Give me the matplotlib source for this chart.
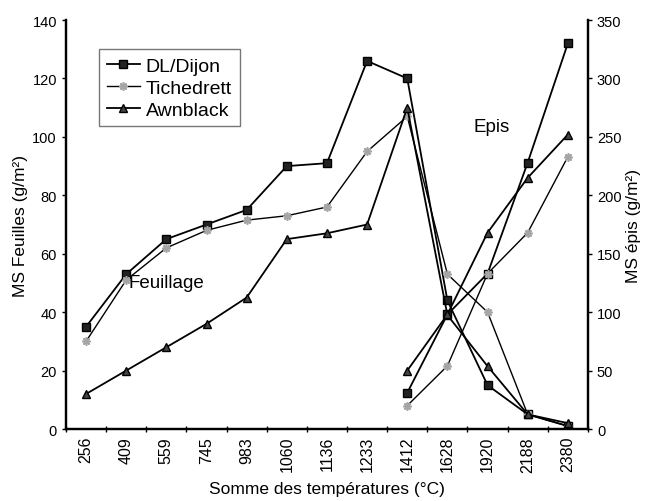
import numpy as np
import matplotlib
matplotlib.use("Agg")
import matplotlib.pyplot as plt

plt.rcParams['font.family'] = ['Liberation Sans', 'DejaVu Sans']

# ---------------------------
# données
# ---------------------------
temps = ['256', '409', '559', '745', '983', '1060', '1136', '1233',
         '1412', '1628', '1920', '2188', '2380']

# MS feuilles (g/m2), axe de gauche
feuil_dl = [35, 53, 65, 70, 75, 90, 91, 126, 120, 44, 15, 5, 1]
feuil_tich = [30, 51, 62, 68, 71.5, 73, 76, 95, 107, 53, 40, 5, 1]
feuil_awn = [12, 20, 28, 36, 45, 65, 67, 70, 110, 39, 21.5, 5, 2]

# MS épis (g/m2), axe de droite, à partir de 1412
epis_temps = ['1412', '1628', '1920', '2188', '2380']
epis_dl = [31, 98, 133, 228, 330]
epis_tich = [20, 54, 133, 168, 233]
epis_awn = [50, 98, 168, 215, 252]

x = np.arange(len(temps))
xe = np.array([temps.index(t) for t in epis_temps])

styles = {
    'dl': dict(color='black', lw=1.3, marker='s', ms=5.5, mfc='#222222', mec='black'),
    'tich': dict(color='black', lw=1.0, marker=(8, 2, 0), ms=6, mfc='#aaaaaa', mec='#a5a5a5', mew=1.2),
    'awn': dict(color='black', lw=1.3, marker='^', ms=6, mfc='#444444', mec='black'),
}

fig = plt.figure(figsize=(6.5, 5.02), dpi=100)
ax = fig.add_axes([0.1015, 0.1434, 0.803, 0.8147])
ax2 = ax.twinx()

ax.plot(x, feuil_dl, label='DL/Dijon', **styles['dl'])
ax.plot(x, feuil_tich, label='Tichedrett', **styles['tich'])
ax.plot(x, feuil_awn, label='Awnblack', **styles['awn'])

ax2.plot(xe, epis_dl, **styles['dl'])
ax2.plot(xe, epis_tich, **styles['tich'])
ax2.plot(xe, epis_awn, **styles['awn'])

ax.set_xlim(-0.5, len(temps) - 0.5)
ax.set_ylim(0, 140)
ax2.set_ylim(0, 350)
ax.set_yticks(np.arange(0, 141, 20))
ax2.set_yticks(np.arange(0, 351, 50))

ax.set_xticks(x)
ax.set_xticklabels(temps, rotation=90, fontsize=11.5)
ax.set_xticks(np.arange(-0.5, len(temps), 1), minor=True)
ax.tick_params(axis='x', which='major', length=0, pad=5)
ax.tick_params(axis='x', which='minor', length=4, direction='inout', width=1)
ax.tick_params(axis='y', labelsize=10.5, length=3, width=1)
ax2.tick_params(axis='y', labelsize=10.5, length=3, width=1)

for a in (ax, ax2):
    a.spines['top'].set_visible(False)
    for s in ('left', 'right', 'bottom'):
        a.spines[s].set_linewidth(1.6)

ax.set_xlabel('Somme des températures (°C)', fontsize=12.5, labelpad=7)
ax.set_ylabel('MS Feuilles (g/m²)', fontsize=12.5, labelpad=3)
ax2.set_ylabel('MS épis (g/m²)', fontsize=12.5, labelpad=3)

ax.text(2.0, 50, 'Feuillage', fontsize=13.5, ha='center', va='center')
ax.text(10.1, 103.5, 'Epis', fontsize=13.5, ha='center', va='center')

leg = ax.legend(loc='upper left', bbox_to_anchor=(0.063, 0.928), fontsize=14,
                frameon=True, fancybox=False, handlelength=1.7, handletextpad=0.3,
                labelspacing=0.22, borderpad=0.4, borderaxespad=0)
leg.get_frame().set_edgecolor('#555555')
leg.get_frame().set_linewidth(1.0)

fig.savefig('out.png', dpi=100)
